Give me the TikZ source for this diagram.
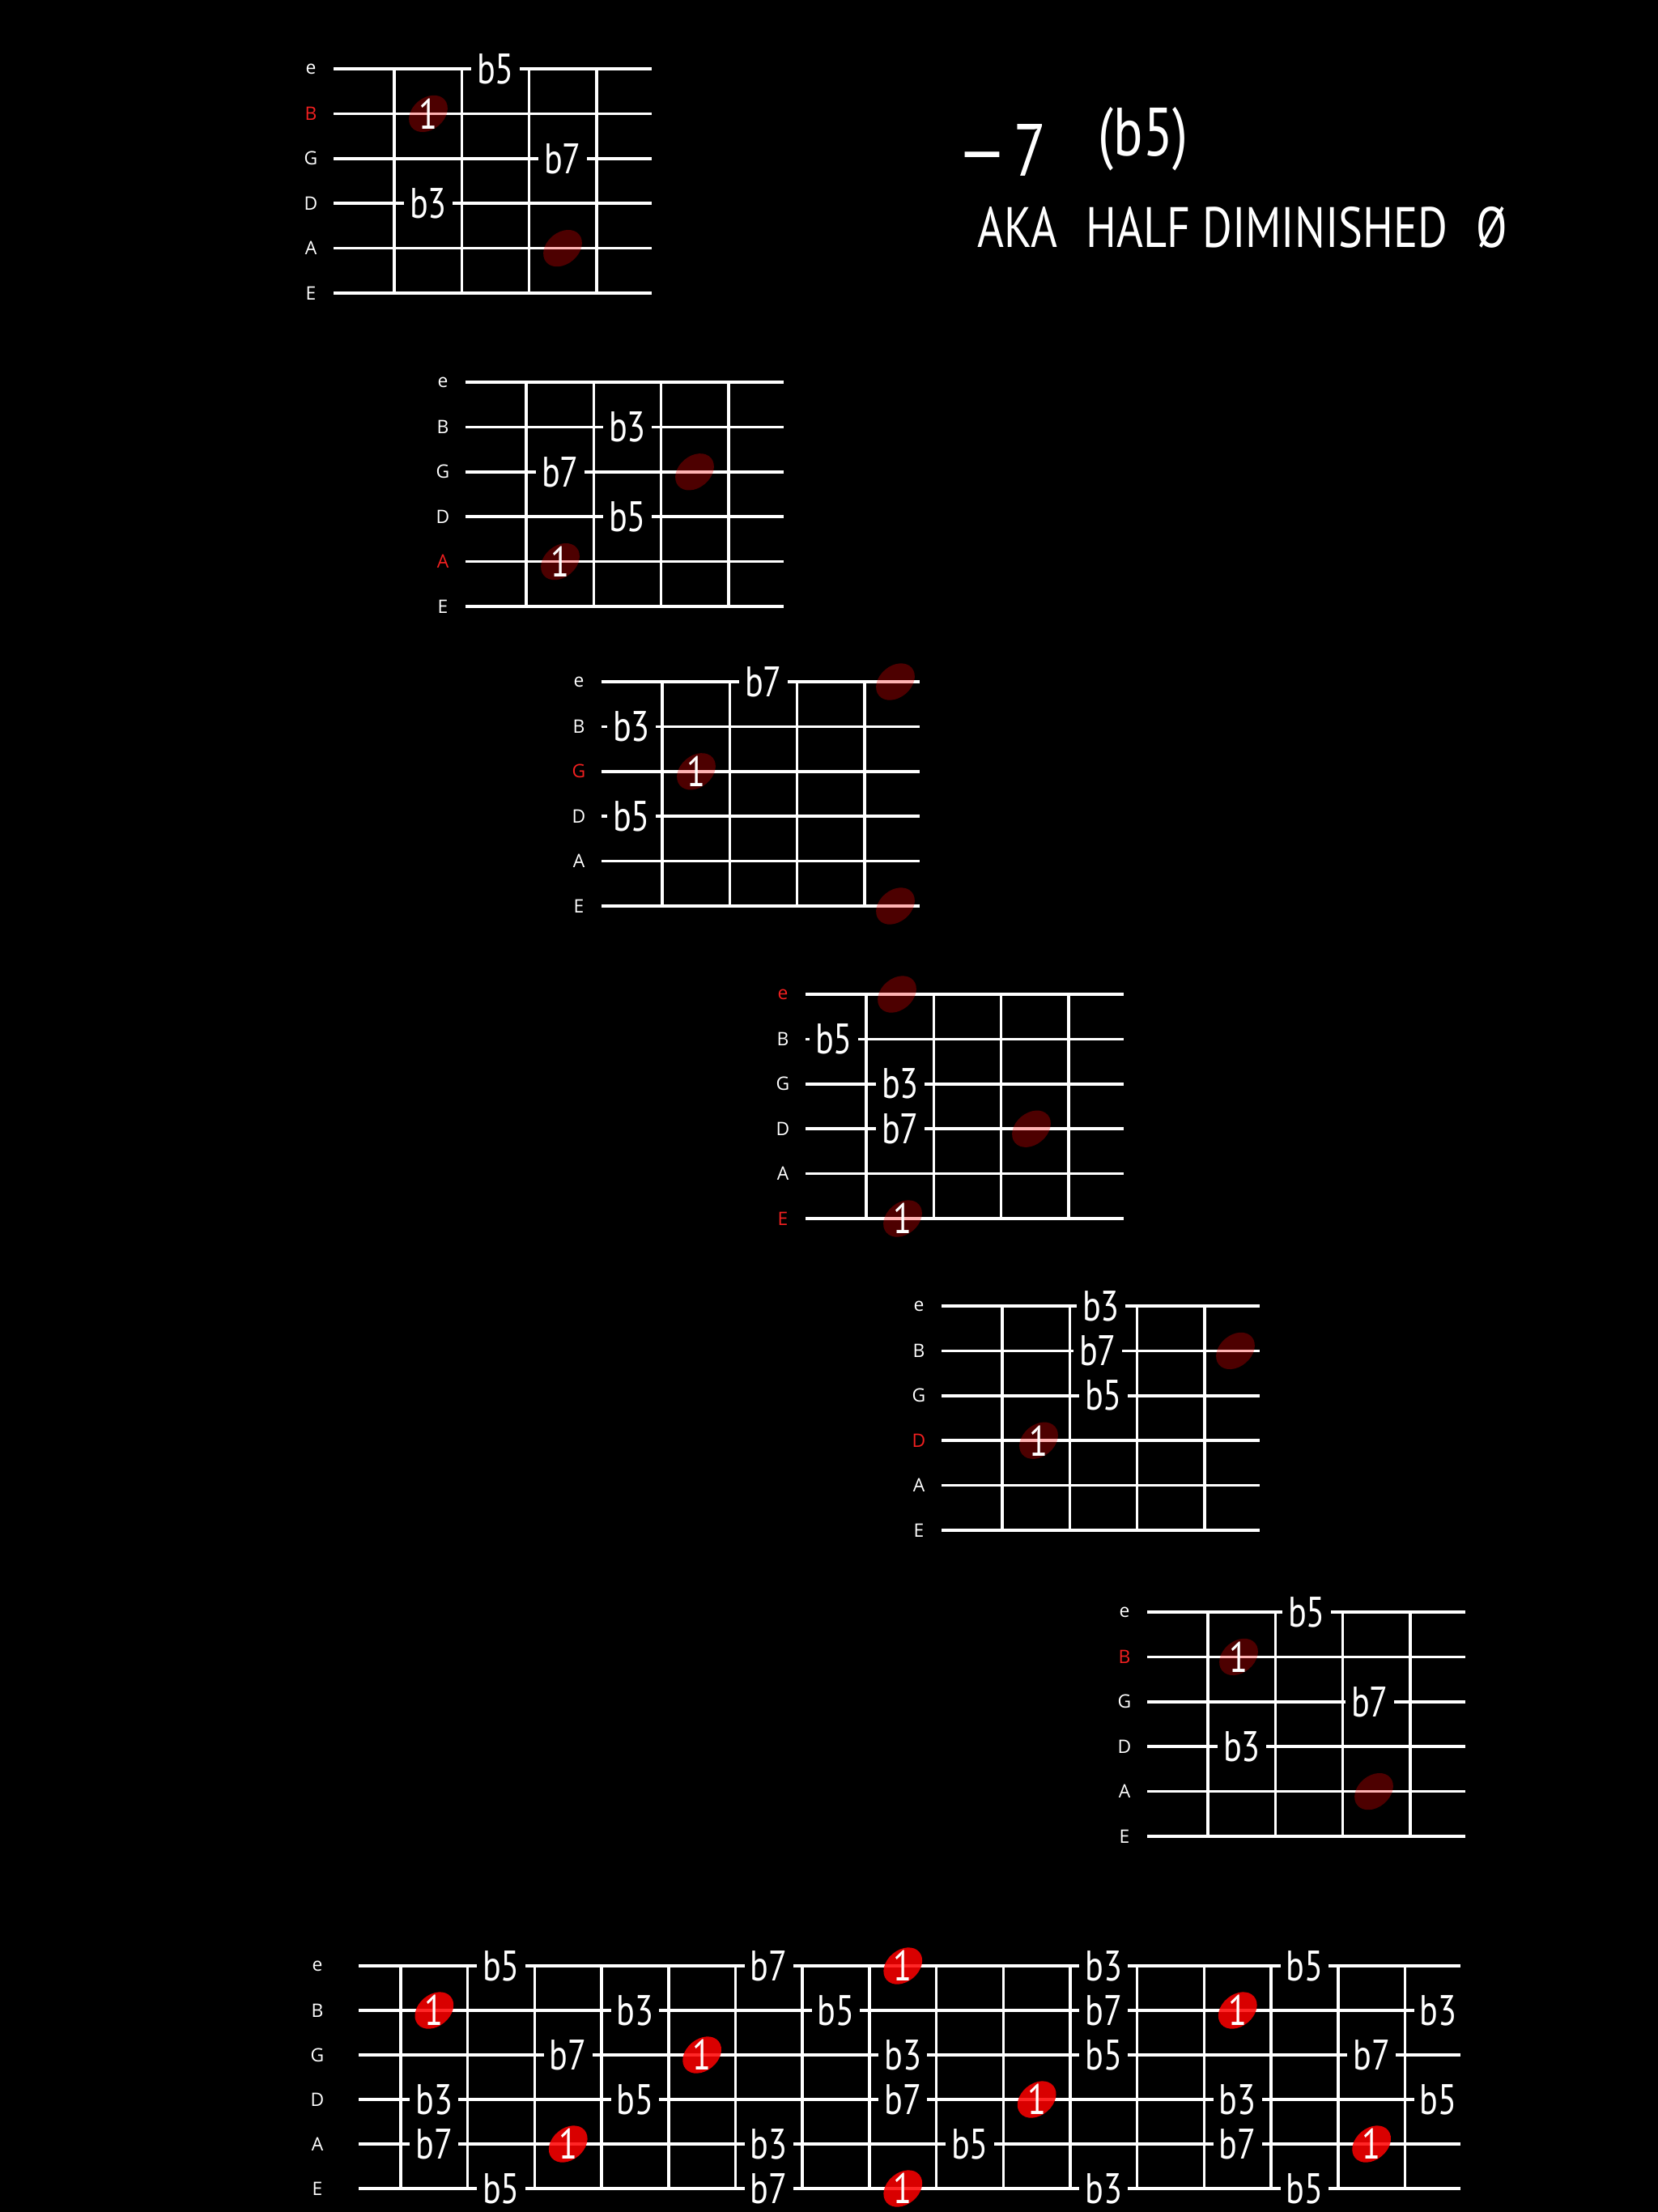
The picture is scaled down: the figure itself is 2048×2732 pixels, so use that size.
\documentclass[tikz,border=0pt]{standalone}
\usepackage{fontspec}
\setmainfont{PT Sans}
\newfontfamily\handfont[FakeStretch=0.8]{PT Sans}
\newfontfamily\labelfont{Open Sans}
\usetikzlibrary{shapes.geometric}

\definecolor{rootred}{HTML}{F22020}

% one small chord box at the current shift: strings, four frets, string names
\newcommand{\chordgrid}[2]{%
  \foreach \n/\col [count=\s from 0] in {#2} {
    \draw[gtrline] (-75, 55.4*\s) -- (318, 55.4*\s);
    \node[strname, text=\col] (#1\n) at (-103, 55.4*\s) {\n};
  }
  \foreach \f in {0,...,3}
    \draw[gtrline] (83.3*\f, 0) -- (83.3*\f, 277);
}

\begin{document}
\begin{tikzpicture}[
  x=0.01cm, y=-0.01cm,
  gtrline/.style={white, line width=1pt},
  strname/.style={text=white, font=\labelfont\fontsize{6.5}{7}\selectfont, inner sep=0pt},
  note/.style={fill=black, text=white, inner xsep=2pt, inner ysep=0.5pt, font=\handfont\fontsize{15}{15}\selectfont},
  one/.style={text=white, inner sep=0pt, font=\handfont\fontsize{15}{15}\selectfont},
  dimroot/.style={ellipse, draw=none, fill=red, fill opacity=0.3, minimum width=0.53cm, minimum height=0.39cm, inner sep=0pt, rotate=40},
  hotroot/.style={dimroot, fill opacity=0.85},
  title/.style={text=white, inner sep=0pt, anchor=base west},
]

% black page
\fill[black] (0,0) rectangle (2048,2732);

% Chord name, top right
\node[title, font=\handfont\fontsize{26}{26}\selectfont] (chordname) at (1183, 217) {—\kern0.1em7};
\node[title, font=\handfont\fontsize{24}{24}\selectfont] (alter) at (1356, 192) {(b5)};
\node[title, font=\handfont\fontsize{20}{20}\selectfont] (aka) at (1207, 305) {AKA\enspace HALF DIMINISHED\enspace Ø};

% Box 1: root on the B string
\begin{scope}[shift={(487,85)}]
  \chordgrid{c1}{e/white, B/rootred, G/white, D/white, A/white, E/white}
  \node[dimroot] (c1r) at (42, 55.4) {};
  \node[one] (c1one) at (42, 55.4) {1};
  \node[dimroot] (c1oct) at (208, 221.6) {};
  \node[note] (c1five) at (125, 0) {b5};
  \node[note] (c1seven) at (208, 110.8) {b7};
  \node[note] (c1three) at (42, 166.2) {b3};
\end{scope}

% Box 2: root on the A string
\begin{scope}[shift={(650,472)}]
  \chordgrid{c2}{e/white, B/white, G/white, D/white, A/rootred, E/white}
  \node[dimroot] (c2r) at (42, 221.6) {};
  \node[one] (c2one) at (42, 221.6) {1};
  \node[dimroot] (c2oct) at (208, 110.8) {};
  \node[note] (c2three) at (125, 55.4) {b3};
  \node[note] (c2seven) at (42, 110.8) {b7};
  \node[note] (c2five) at (125, 166.2) {b5};
\end{scope}

% Box 3: root on the G string
\begin{scope}[shift={(818,842)}]
  \chordgrid{c3}{e/white, B/white, G/rootred, D/white, A/white, E/white}
  \node[dimroot] (c3r) at (42, 110.8) {};
  \node[one] (c3one) at (42, 110.8) {1};
  \node[dimroot] (c3octa) at (288, 0) {};
  \node[dimroot] (c3octb) at (288, 277) {};
  \node[note] (c3seven) at (125, 0) {b7};
  \node[note] (c3three) at (-38, 55.4) {b3};
  \node[note] (c3five) at (-38, 166.2) {b5};
\end{scope}

% Box 4: root on the low E string
\begin{scope}[shift={(1070,1228)}]
  \chordgrid{c4}{e/rootred, B/white, G/white, D/white, A/white, E/rootred}
  \node[dimroot] (c4octa) at (38, 0) {};
  \node[dimroot] (c4octb) at (204, 166.2) {};
  \node[dimroot] (c4r) at (45, 277) {};
  \node[one] (c4one) at (45, 277) {1};
  \node[note] (c4five) at (-40, 55.4) {b5};
  \node[note] (c4three) at (42, 110.8) {b3};
  \node[note] (c4seven) at (42, 166.2) {b7};
\end{scope}

% Box 5: root on the D string
\begin{scope}[shift={(1238,1613)}]
  \chordgrid{c5}{e/white, B/white, G/white, D/rootred, A/white, E/white}
  \node[dimroot] (c5r) at (45, 166.2) {};
  \node[one] (c5one) at (45, 166.2) {1};
  \node[dimroot] (c5oct) at (288, 55.4) {};
  \node[note] (c5three) at (122, 0) {b3};
  \node[note] (c5seven) at (118, 55.4) {b7};
  \node[note] (c5five) at (125, 110.8) {b5};
\end{scope}

% Box 6: root on the B string, an octave up
\begin{scope}[shift={(1492,1991)}]
  \chordgrid{c6}{e/white, B/rootred, G/white, D/white, A/white, E/white}
  \node[dimroot] (c6r) at (38, 55.4) {};
  \node[one] (c6one) at (38, 55.4) {1};
  \node[dimroot] (c6oct) at (205, 221.6) {};
  \node[note] (c6five) at (122, 0) {b5};
  \node[note] (c6seven) at (200, 110.8) {b7};
  \node[note] (c6three) at (42, 166.2) {b3};
\end{scope}

% Whole neck, frets 1 to 16
\begin{scope}[shift={(495,2428)}]
  \foreach \n [count=\s from 0] in {e,B,G,D,A,E} {
    \draw[gtrline] (-52, 55*\s) -- (1309, 55*\s);
    \node[strname] (nk\n) at (-103, 55*\s) {\n};
  }
  \foreach \f in {0,...,15}
    \draw[gtrline] (82.7*\f, 0) -- (82.7*\f, 275);
  % roots
  \foreach \s/\j [count=\k] in {0/8, 1/1, 1/13, 2/5, 3/10, 4/3, 4/15, 5/8} {
    \node[hotroot] (nkr\k) at (82.7*\j-41.35, 55*\s) {};
    \node[one] (nko\k) at (82.7*\j-41.35, 55*\s) {1};
  }
  % the other chord tones
  \foreach \s/\j/\t [count=\k] in {0/2/b5, 0/6/b7, 0/11/b3, 0/14/b5,
      1/4/b3, 1/7/b5, 1/11/b7, 1/16/b3,
      2/3/b7, 2/8/b3, 2/11/b5, 2/15/b7,
      3/1/b3, 3/4/b5, 3/8/b7, 3/13/b3, 3/16/b5,
      4/1/b7, 4/6/b3, 4/9/b5, 4/13/b7,
      5/2/b5, 5/6/b7, 5/11/b3, 5/14/b5}
    \node[note] (nkt\k) at (82.7*\j-41.35, 55*\s) {\t};
\end{scope}

\end{tikzpicture}
\end{document}
